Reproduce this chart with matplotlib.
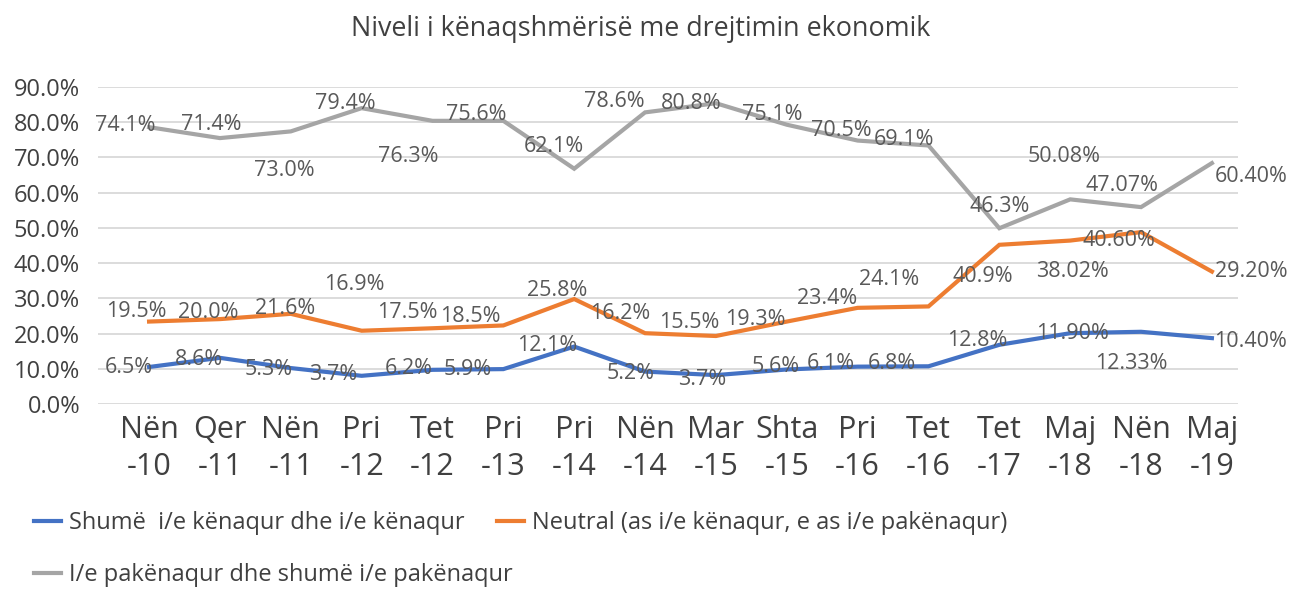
import matplotlib.pyplot as plt
from matplotlib.ticker import PercentFormatter

plt.rcParams['font.family'] = ['Open Sans', 'DejaVu Sans']

# periudhat e anketes
periudhat = ['Nën\n-10', 'Qer\n-11', 'Nën\n-11', 'Pri\n-12', 'Tet\n-12', 'Pri\n-13',
             'Pri\n-14', 'Nën\n-14', 'Mar\n-15', 'Shta\n-15', 'Pri\n-16', 'Tet\n-16',
             'Tet\n-17', 'Maj\n-18', 'Nën\n-18', 'Maj\n-19']

# vlerat e vijave (%), lexuar nga grafiku
kenaqur = [10.5, 13.1, 10.2, 8.0, 9.7, 9.9, 16.3, 9.2, 8.2, 9.8, 10.6, 10.7, 16.8, 20.1, 20.5, 18.7]
neutral = [23.4, 24.1, 25.6, 20.8, 21.5, 22.3, 29.8, 20.1, 19.3, 23.4, 27.3, 27.7, 45.2, 46.4, 48.8, 37.6]
pakenaqur = [78.6, 75.5, 77.4, 84.0, 80.4, 80.4, 66.8, 82.8, 85.4, 79.3, 74.8, 73.4, 49.9, 58.1, 55.9, 68.4]

# etiketat e te dhenave (ashtu si jane shkruar)
etiketa_kenaqur = ['6.5%', '8.6%', '5.3%', '3.7%', '6.2%', '5.9%', '12.1%', '5.2%', '3.7%',
                   '5.6%', '6.1%', '6.8%', '12.8%', '11.90%', '12.33%', '10.40%']
etiketa_neutral = ['19.5%', '20.0%', '21.6%', '16.9%', '17.5%', '18.5%', '25.8%', '16.2%', '15.5%',
                   '19.3%', '23.4%', '24.1%', '40.9%', '38.02%', '40.60%', '29.20%']
etiketa_pakenaqur = ['74.1%', '71.4%', '73.0%', '79.4%', '76.3%', '75.6%', '62.1%', '78.6%', '80.8%',
                     '75.1%', '70.5%', '69.1%', '46.3%', '50.08%', '47.07%', '60.40%']

emrat = ['Shumë  i/e kënaqur dhe i/e kënaqur',
         'Neutral (as i/e kënaqur, e as i/e pakënaqur)',
         'I/e pakënaqur dhe shumë i/e pakënaqur']
ngjyrat = ['#4472C4', '#ED7D31', '#A5A5A5']

# zhvendosja e etiketave (piksel, x djathtas, y poshte)
zhv_kenaqur = [(-20, 0), (-21, 2), (-22, 1), (-28, -1), (-24, -1), (-36, 0), (-27, -1), (-14, 2),
               (-14, 4), (-11, -3), (-27, -3), (-37, -3), (-22, -4), (2, 0), (-10, 32), (39, 3)]
zhv_neutral = [(-13, -10), (-12, -7), (-6, -5), (-7, -46), (-25, -16), (-33, -9), (-17, -9), (-25, -20),
               (-27, -14), (-31, -2), (-31, -9), (-39, -27), (-17, 32), (2, 31), (-22, 8), (39, 0)]
zhv_pakenaqur = [(-24, -2), (-9, -14), (-6, 39), (-16, -5), (-24, 36), (-27, -6), (-20, -22), (-31, -11),
                 (-25, 0), (-15, -10), (-16, -10), (-24, -6), (0, -22), (-6, -43), (-19, -22), (39, 13)]

fig = plt.figure(figsize=(12.92, 5.92), dpi=100)
ax = fig.add_axes([0.0759, 0.3176, 0.8824, 0.5354])

x = range(len(periudhat))
seri = [(kenaqur, etiketa_kenaqur, zhv_kenaqur),
        (neutral, etiketa_neutral, zhv_neutral),
        (pakenaqur, etiketa_pakenaqur, zhv_pakenaqur)]

vijat = []
for (vlerat, etiketat, zhv), emri, ngj in zip(seri, emrat, ngjyrat):
    l, = ax.plot(x, vlerat, color=ngj, linewidth=3, label=emri, solid_joinstyle='miter')
    vijat.append(l)
    for i, (v, t, (dx, dy)) in enumerate(zip(vlerat, etiketat, zhv)):
        ax.annotate(t, (i, v), xytext=(dx, -dy), textcoords='offset pixels',
                    ha='center', va='center', fontsize=15.5, color='#595959')

ax.set_xlim(-0.72, 15.37)
ax.set_ylim(0, 90)
ax.set_yticks(range(0, 91, 10))
ax.yaxis.set_major_formatter(PercentFormatter(decimals=1))
ax.set_xticks(list(x))
ax.set_xticklabels(periudhat, fontsize=22, color='#404040', linespacing=1.32)
ax.tick_params(axis='y', labelsize=17, labelcolor='#404040', length=0, pad=13)
ax.tick_params(axis='x', length=0, pad=8)
ax.yaxis.grid(True, color='#d9d9d9', linewidth=1.3)
ax.set_axisbelow(True)
for s in ax.spines.values():
    s.set_visible(False)

fig.text(0.496, 0.951, 'Niveli i kënaqshmërisë me drejtimin ekonomik',
         ha='center', va='center', fontsize=19.4, color='#404040')

# legjenda ne dy rreshta (rreshti i pare me dy hyrje)
leg_opts = dict(loc='upper left', frameon=False, fontsize=17, handlelength=1.15,
                handletextpad=0.35, borderpad=0, borderaxespad=0, labelcolor='#404040')
fig.legend(vijat[:2], emrat[:2], ncol=2, columnspacing=1.35,
           bbox_to_anchor=(0.026, 1 - 511 / 592), **leg_opts)
fig.legend(vijat[2:], emrat[2:], bbox_to_anchor=(0.026, 1 - 563 / 592), **leg_opts)

plt.savefig('out.png', dpi=100)
